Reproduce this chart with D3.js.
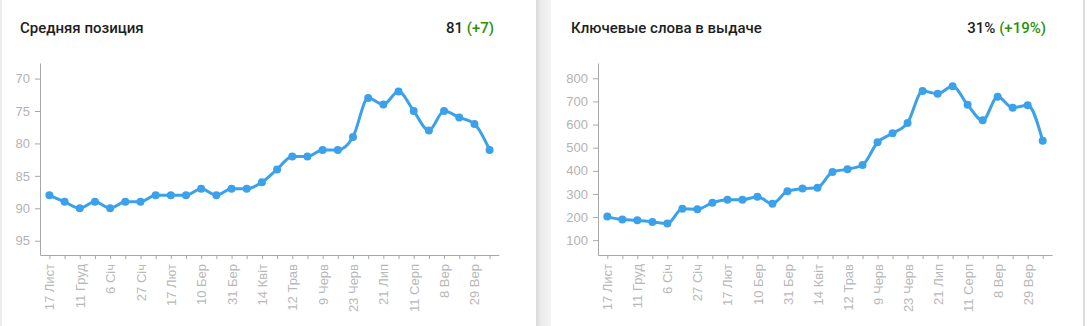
<!DOCTYPE html>
<html>
<head>
<meta charset="utf-8">
<script src="https://cdn.jsdelivr.net/npm/d3@7"></script>
<style>
  body { margin: 0; background: #fff; font-family: Roboto, "Noto Sans", sans-serif; }
  svg { display: block; }
</style>
</head>
<body>
<svg id="chart" width="1087" height="326"></svg>
<script>
// tick labels, one for every second point
var dateLabels = ["17 Лист", "11 Груд", "6 Січ", "27 Січ", "17 Лют", "10 Бер", "31 Бер", "14 Квіт",
    "12 Трав", "9 Черв", "23 Черв", "21 Лип", "11 Серп", "8 Вер", "29 Вер"];

var positionValues = [88, 89, 90, 89, 90, 89, 89, 88, 88, 88, 87, 88, 87, 87, 86,
    84, 82, 82, 81, 81, 79, 73, 74, 72, 75, 78, 75, 76, 77, 81];

var keywordValues = [202, 189, 186, 179, 172, 236, 234, 262, 275, 275, 288, 258, 312, 323, 327,
    395, 407, 425, 523, 562, 607, 745, 733, 765, 685, 618, 720, 673, 683, 530];

var positionTicks = [70, 75, 80, 85, 90, 95];
var keywordTicks = [100, 200, 300, 400, 500, 600, 700, 800];

var svg = d3.select("#chart");

// card edges / shadow gap
var defs = svg.append("defs");
var grad = defs.append("linearGradient").attr("id", "gap");
grad.append("stop").attr("offset", "0%").attr("stop-color", "#d9d9d9");
grad.append("stop").attr("offset", "35%").attr("stop-color", "#ececec");
grad.append("stop").attr("offset", "100%").attr("stop-color", "#f4f4f4");

svg.append("rect").attr("x", 536).attr("y", 0).attr("width", 15).attr("height", 326).attr("fill", "url(#gap)");
svg.append("rect").attr("x", 0).attr("y", 0).attr("width", 2).attr("height", 326).attr("fill", "#ececec");
svg.append("rect").attr("x", 1083).attr("y", 0).attr("width", 2).attr("height", 326).attr("fill", "#dcdcdc");

function drawCard(opt) {
    var g = svg.append("g");

    g.append("text")
        .attr("x", opt.left + 20).attr("y", 33)
        .style("font-size", "15px").style("font-weight", 500).attr("fill", "#1e1e1e")
        .text(opt.title);

    var val = g.append("text")
        .attr("x", opt.right).attr("y", 33)
        .attr("text-anchor", "end")
        .style("font-size", "15px").style("font-weight", 500).attr("fill", "#1e1e1e");
    val.append("tspan").text(opt.value + " ");
    val.append("tspan").attr("fill", "#2c8f0a").text(opt.change);

    var x = d3.scalePoint()
        .domain(d3.range(opt.values.length))
        .range([opt.axisX, opt.axisEnd])
        .padding(0.62);

    var y = d3.scaleLinear()
        .domain(opt.domain)
        .range([63, 255]);

    var yAxis = d3.axisLeft(y).tickValues(opt.ticks).tickSize(5).tickSizeOuter(0).tickPadding(5);
    var xAxis = d3.axisBottom(x).tickSize(4).tickSizeOuter(0).tickPadding(8)
        .tickFormat(function (d) { return d % 2 == 0 ? dateLabels[d / 2] : ""; });

    var ya = g.append("g")
        .attr("transform", "translate(" + opt.axisX + ",0)")
        .call(yAxis);
    ya.selectAll("text").style("font-size", "13px").attr("fill", "#b3b3b3");

    var xa = g.append("g")
        .attr("transform", "translate(0,255)")
        .call(xAxis);
    xa.selectAll("text")
        .style("font-size", "13px").attr("fill", "#b8b8b8")
        .attr("text-anchor", "end")
        .attr("transform", "rotate(-90)")
        .attr("x", -9).attr("y", 0).attr("dy", "0.35em");

    g.selectAll(".domain, .tick line").attr("stroke", "#a8a8a8");

    var line = d3.line()
        .x(function (d, i) { return x(i); })
        .y(function (d) { return y(d); })
        .curve(d3.curveMonotoneX);

    g.append("path")
        .datum(opt.values)
        .attr("d", line)
        .attr("fill", "none")
        .attr("stroke", "#3ba1eb")
        .attr("stroke-width", 3);

    g.selectAll("circle")
        .data(opt.values)
        .enter()
        .append("circle")
        .attr("cx", function (d, i) { return x(i); })
        .attr("cy", function (d) { return y(d); })
        .attr("r", 4)
        .attr("fill", "#3ba1eb");
}

drawCard({
    left: 0, right: 494, title: "Средняя позиция", value: "81", change: "(+7)",
    values: positionValues, ticks: positionTicks, domain: [67.6, 97.2],
    axisX: 40, axisEnd: 499
});

drawCard({
    left: 551, right: 1046, title: "Ключевые слова в выдаче", value: "31%", change: "(+19%)",
    values: keywordValues, ticks: keywordTicks, domain: [866, 36],
    axisX: 598, axisEnd: 1052
});
</script>
</body>
</html>
